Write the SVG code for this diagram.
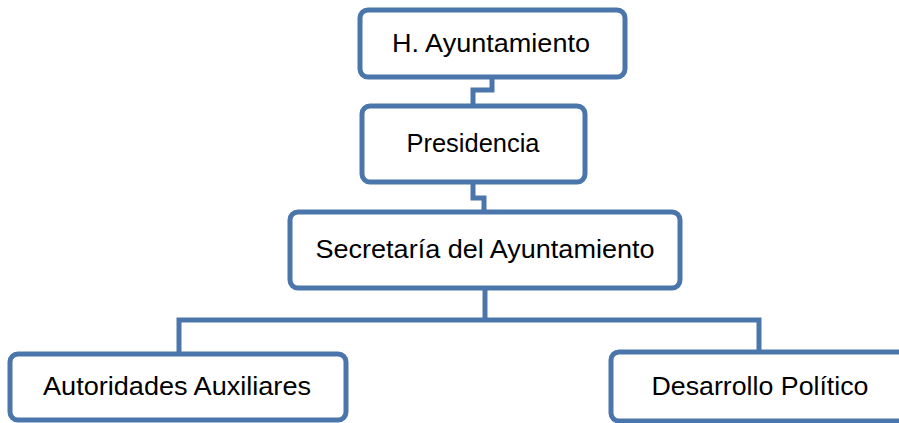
<svg xmlns="http://www.w3.org/2000/svg" width="899" height="423" viewBox="0 0 899 423">
  <style>
    .box { fill: #ffffff; stroke: #4A76AC; stroke-width: 5; }
    .conn { fill: none; stroke: #4A76AC; stroke-width: 5; stroke-linejoin: miter; }
    .lbl { font-family: "Liberation Sans", Arial, sans-serif; font-size: 26px; fill: #000000; text-anchor: middle; }
  </style>
  <rect width="899" height="423" fill="#ffffff"/>
  <g id="connectors">
    <polyline class="conn" points="492,77 492,90 473,90 473,106"/>
    <polyline class="conn" points="473,182 473,198 484,198 484,212"/>
    <polyline class="conn" points="485,288 485,320"/>
    <polyline class="conn" points="179,354 179,320 759,320 759,352"/>
  </g>
  <g id="node-ayuntamiento">
    <rect class="box" x="360" y="10" width="265" height="67" rx="8"/>
    <text class="lbl" x="491" y="52" textLength="198" lengthAdjust="spacingAndGlyphs">H. Ayuntamiento</text>
  </g>
  <g id="node-presidencia">
    <rect class="box" x="362" y="106" width="223" height="76" rx="8"/>
    <text class="lbl" x="473" y="152" textLength="133" lengthAdjust="spacingAndGlyphs">Presidencia</text>
  </g>
  <g id="node-secretaria">
    <rect class="box" x="290" y="212" width="390" height="76" rx="8"/>
    <text class="lbl" x="485" y="258" textLength="339" lengthAdjust="spacingAndGlyphs">Secretaría del Ayuntamiento</text>
  </g>
  <g id="node-autoridades">
    <rect class="box" x="10" y="354" width="336" height="66" rx="8"/>
    <text class="lbl" x="177" y="395" textLength="268" lengthAdjust="spacingAndGlyphs">Autoridades Auxiliares</text>
  </g>
  <g id="node-desarrollo">
    <rect class="box" x="611" y="352" width="300" height="69" rx="8"/>
    <text class="lbl" x="760" y="395" textLength="217" lengthAdjust="spacingAndGlyphs">Desarrollo Político</text>
  </g>
</svg>
